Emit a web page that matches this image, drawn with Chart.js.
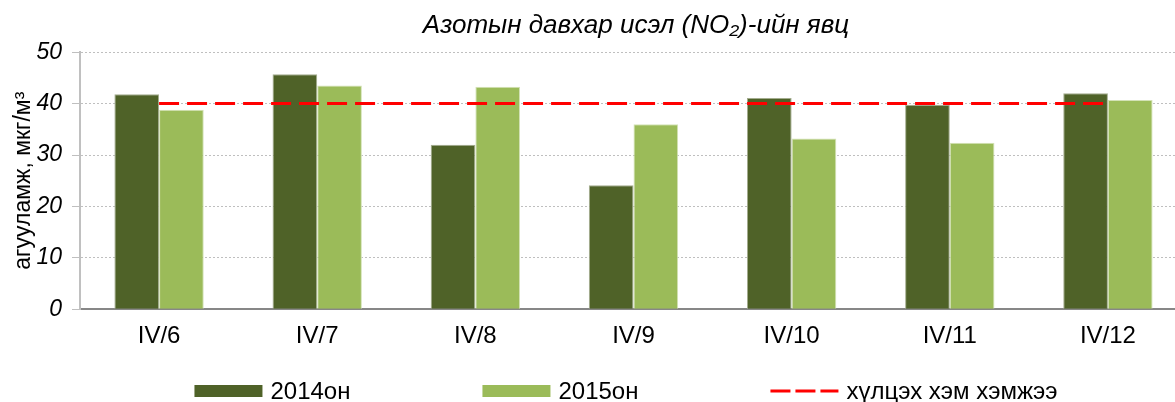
<!DOCTYPE html>
<html>
<head>
<meta charset="utf-8">
<script src="https://cdn.jsdelivr.net/npm/chart.js@4"></script>
<style>
  html, body { margin: 0; padding: 0; background: #fff; overflow: hidden; width: 1175px; height: 402px; }
  #wrap { position: absolute; left: 0; top: 0; width: 1272px; height: 402px; }
</style>
</head>
<body>
<div id="wrap"><canvas id="c"></canvas></div>
<script>
const categories = ['IV/6', 'IV/7', 'IV/8', 'IV/9', 'IV/10', 'IV/11', 'IV/12'];
const values2014 = [41.8, 45.7, 32.0, 24.1, 41.1, 39.8, 42.0];
const values2015 = [38.8, 43.5, 43.3, 36.0, 33.2, 32.4, 40.7];
const limitValues = [40, 40, 40, 40, 40, 40, 40];
const seriesLabels = ['2014он', '2015он', 'хүлцэх хэм хэмжээ'];
const yTicks = [0, 10, 20, 30, 40, 50];
const chartTitle = 'Азотын давхар исэл (NO₂)-ийн явц';
const yTitle = 'агууламж, мкг/м³';

const FONT = '"Liberation Sans", Arial, sans-serif';

const legendPlugin = {
  id: 'bottomLegend',
  afterDraw(chart) {
    const ctx = chart.ctx;
    const ds = chart.data.datasets;
    const swW = 68, swH = 12, gapText = 8, gapItem = 132;
    const y = 391;
    ctx.save();
    ctx.font = '24px ' + FONT;
    ctx.textBaseline = 'middle';
    let total = 0;
    ds.forEach((d, i) => {
      total += swW + gapText + ctx.measureText(d.label).width + (i < ds.length - 1 ? gapItem : 0);
    });
    let x = 626 - total / 2;
    ds.forEach((d) => {
      if (d.type === 'line') {
        ctx.strokeStyle = d.borderColor;
        ctx.lineWidth = d.borderWidth;
        ctx.setLineDash([20, 5]);
        ctx.beginPath();
        ctx.moveTo(x, y);
        ctx.lineTo(x + swW, y);
        ctx.stroke();
        ctx.setLineDash([]);
      } else {
        ctx.fillStyle = d.backgroundColor;
        ctx.fillRect(x, y - swH / 2, swW, swH);
      }
      ctx.fillStyle = '#000';
      ctx.textAlign = 'left';
      ctx.fillText(d.label, x + swW + gapText, y + 1);
      x += swW + gapText + ctx.measureText(d.label).width + gapItem;
    });
    ctx.restore();
  }
};

new Chart(document.getElementById('c'), {
  data: {
    labels: categories,
    datasets: [
      {
        type: 'bar',
        label: seriesLabels[0],
        data: values2014,
        backgroundColor: '#4f6228',
        borderColor: '#a3ac8e',
        borderWidth: 1,
        categoryPercentage: 0.565,
        barPercentage: 1.0,
        order: 1
      },
      {
        type: 'bar',
        label: seriesLabels[1],
        data: values2015,
        backgroundColor: '#9bbb59',
        borderColor: '#d3e2b6',
        borderWidth: 1,
        categoryPercentage: 0.565,
        barPercentage: 1.0,
        order: 1
      },
      {
        type: 'line',
        label: seriesLabels[2],
        data: limitValues,
        borderColor: '#ff0000',
        borderWidth: 3,
        borderDash: [20, 8],
        pointRadius: 0,
        fill: false,
        order: 0
      }
    ]
  },
  options: {
    responsive: true,
    maintainAspectRatio: false,
    animation: false,
    layout: { padding: { left: 0, right: 0, top: 0, bottom: 38 } },
    plugins: {
      legend: { display: false },
      tooltip: { enabled: false },
      title: {
        display: true,
        text: chartTitle,
        color: '#000',
        font: { family: FONT, size: 26, style: 'italic', weight: 'normal' },
        padding: { top: 10, bottom: 11 }
      }
    },
    scales: {
      x: {
        grid: { display: false, drawTicks: false },
        border: { display: true, color: '#878787', width: 2 },
        ticks: {
          color: '#000',
          padding: 13,
          font: { family: FONT, size: 24 }
        }
      },
      y: {
        min: 0,
        max: 50,
        afterBuildTicks(scale) { scale.ticks = yTicks.map(v => ({ value: v })); },
        afterFit(scale) { scale.width = 80; },
        grid: {
          color: (c) => (c.tick && c.tick.value === 0) ? 'rgba(0,0,0,0)' : '#bfbfbf',
          tickColor: '#bfbfbf',
          tickLength: 8,
          tickBorderDash: [],
          lineWidth: 1
        },
        border: { display: true, color: '#c0c0c0', width: 2, dash: [2, 2] },
        ticks: {
          color: '#000',
          padding: 10,
          font: { family: FONT, size: 23, style: 'italic' }
        },
        title: {
          display: true,
          text: yTitle,
          color: '#000',
          font: { family: FONT, size: 23 },
          padding: { top: 10, bottom: 4 }
        }
      },
      yRightSpace: {
        position: 'right',
        display: true,
        grid: { display: false, drawTicks: false },
        border: { display: false },
        ticks: { display: false },
        afterFit(scale) { scale.width = 85; }
      }
    }
  },
  plugins: [legendPlugin]
});
</script>
</body>
</html>
